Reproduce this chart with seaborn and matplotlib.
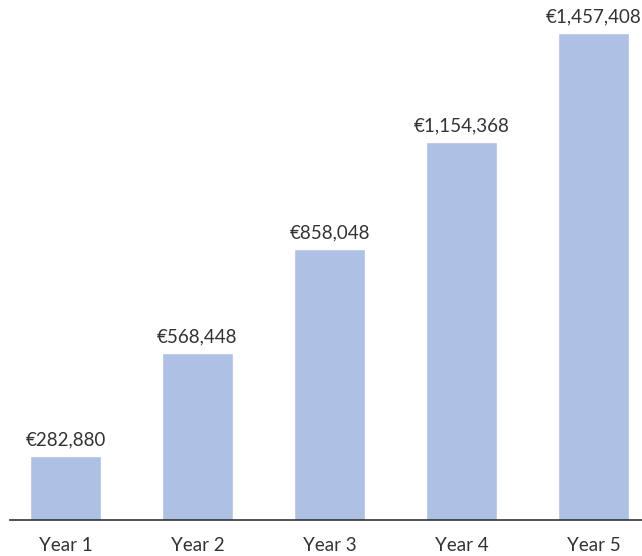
import matplotlib
matplotlib.use("Agg")
import matplotlib.pyplot as plt
import seaborn as sns
import pandas as pd

categories = ["Year 1", "Year 2", "Year 3", "Year 4", "Year 5"]
values = [282880, 568448, 858048, 1154368, 1457408]

sns.set_theme(style="white")
plt.rcParams['font.family'] = ['Lato', 'DejaVu Sans']

df = pd.DataFrame({"year": categories, "value": values})

fig = plt.figure(figsize=(6.42, 5.56), dpi=100)
ax = fig.add_axes([10/642, 36/556, 639/642, 520/556])
sns.barplot(data=df, x="year", y="value", color="#AEC0E4", saturation=1,
            width=0.54, ax=ax)
ax.set_xlim(-0.42, 4.42)
ax.set_ylim(105000, 1549000)
for p, v in zip(ax.patches, values):
    ax.annotate(f"€{v:,}", (p.get_x() + p.get_width() / 2, p.get_height()),
                xytext=(0, 5.5), textcoords="offset points", ha="center", va="bottom",
                fontsize=13.5, color="#333333")
for s in ["top", "right", "left"]:
    ax.spines[s].set_visible(False)
ax.spines["bottom"].set_color("#333333")
ax.spines["bottom"].set_linewidth(1.2)
ax.set_yticks([])
ax.set_xlabel("")
ax.set_ylabel("")
ax.tick_params(axis="x", length=0, pad=12, labelsize=13.5, labelcolor="#333333")
fig.savefig("out.png", dpi=100)
